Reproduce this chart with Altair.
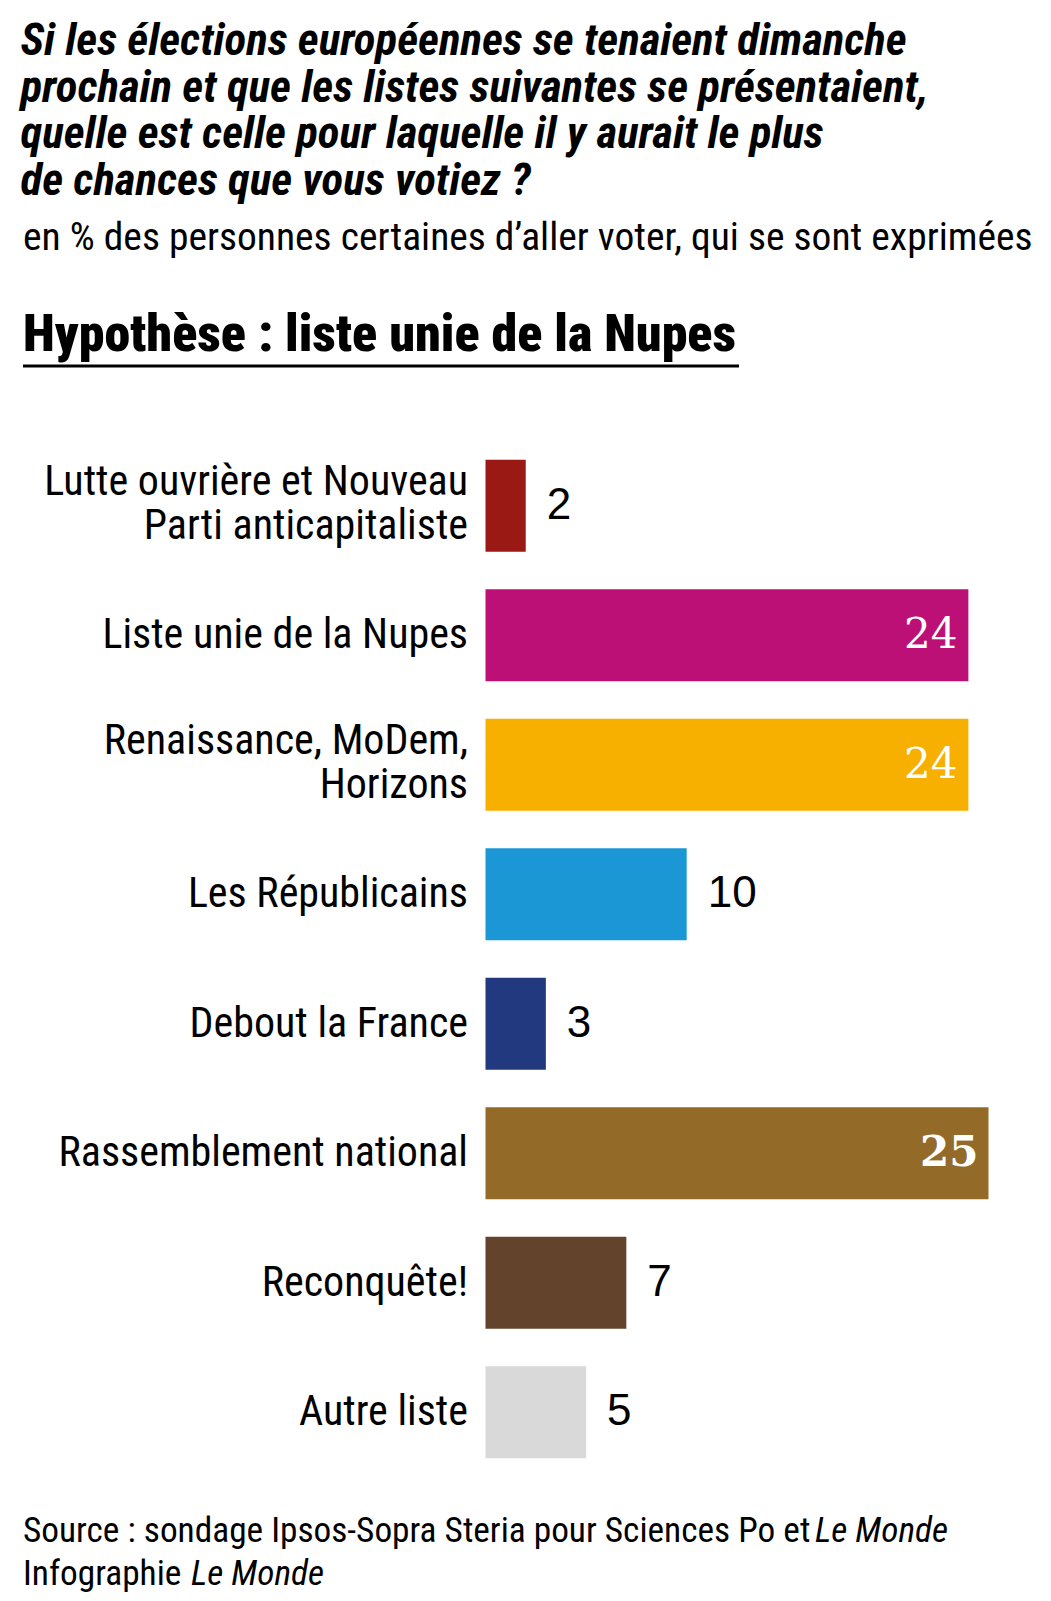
import altair as alt
import pandas as pd

categories = [
    "Lutte ouvrière et Nouveau\nParti anticapitaliste",
    "Liste unie de la Nupes",
    "Renaissance, MoDem,\nHorizons",
    "Les Républicains",
    "Debout la France",
    "Rassemblement national",
    "Reconquête!",
    "Autre liste",
]
values = [2, 24, 24, 10, 3, 25, 7, 5]
palette = ["#9B1914", "#BC1077", "#F7AF00", "#1B97D6", "#22387F", "#946A29", "#63432B", "#D9D9D9"]

title_lines = [
    "Si les élections européennes se tenaient dimanche",
    "prochain et que les listes suivantes se présentaient,",
    "quelle est celle pour laquelle il y aurait le plus",
    "de chances que vous votiez ?",
]
subtitle = "en % des personnes certaines d’aller voter, qui se sont exprimées"
header = "Hypothèse : liste unie de la Nupes"
source_regular = "Source : sondage Ipsos-Sopra Steria pour Sciences Po et"
source_italic = "Le Monde"
credit_regular = "Infographie"
credit_italic = "Le Monde"

SANS = "Roboto Condensed, Roboto, sans-serif"
NUM = "Liberation Sans, Arial, sans-serif"
SERIF = "DejaVu Serif, serif"

df = pd.DataFrame({"category": categories, "value": values})

W, H = 503, 1036

x = alt.X("value:Q", scale=alt.Scale(domain=[0, 25], nice=False), axis=None)
y = alt.Y("category:N", sort=categories,
          scale=alt.Scale(paddingInner=0.29, paddingOuter=0.145), axis=None)

bars = alt.Chart(df).mark_bar().encode(
    x=x, y=y,
    color=alt.Color("category:N", scale=alt.Scale(domain=categories, range=palette), legend=None),
)

LH = 44
label_props = dict(align="right", baseline="middle", font=SANS, fontSize=42, lineBreak="\n",
                   lineHeight=LH, color="#000000")
cat_one = alt.Chart(df).transform_filter("indexof(datum.category, '\\n') < 0").mark_text(
    **label_props).encode(y=y, x=alt.value(-17.5), text="category:N")
cat_two = alt.Chart(df).transform_filter("indexof(datum.category, '\\n') >= 0").mark_text(
    dy=-LH / 2 - 2, **label_props).encode(y=y, x=alt.value(-17.5), text="category:N")

outside = alt.Chart(df).transform_filter("datum.value < 20").mark_text(
    align="left", baseline="middle", dx=21, font=NUM, fontSize=44, color="#000000"
).encode(x=x, y=y, text="value:Q")

inside = alt.Chart(df).transform_joinaggregate(vmax="max(value)").transform_filter(
    "datum.value >= 20 && datum.value < datum.vmax").mark_text(
    align="right", baseline="middle", dx=-11, font=SERIF, fontSize=42, color="#FFFFFF"
).encode(x=x, y=y, text="value:Q")

inside_bold = alt.Chart(df).transform_joinaggregate(vmax="max(value)").transform_filter(
    "datum.value >= 20 && datum.value == datum.vmax").mark_text(
    align="right", baseline="middle", dx=-10, font=SERIF, fontSize=42, fontWeight="bold",
    color="#FFFFFF"
).encode(x=x, y=y, text="value:Q")


def note(text, xv, yv, size, weight="normal", style="normal", lh=None):
    props = dict(align="left", baseline="alphabetic", font=SANS, fontSize=size,
                 fontWeight=weight, fontStyle=style, color="#000000")
    if lh is not None:
        props["lineBreak"] = "\n"
        props["lineHeight"] = lh
    return alt.Chart(pd.DataFrame({"t": [text]})).mark_text(**props).encode(
        x=alt.value(xv), y=alt.value(yv), text="t:N")


title = note("\n".join(title_lines), -465, -386, 45, weight="bold", style="italic", lh=46.5)
sub = note(subtitle, -462.5, -191, 39.5)
head = note(header, -462.5, -90, 52, weight=900)
underline = alt.Chart(pd.DataFrame({"a": [0]})).mark_rule(color="#000000", strokeWidth=3).encode(
    x=alt.value(-462.5), x2=alt.value(253.5), y=alt.value(-75))
src1 = note(source_regular, -462.5, 1101, 35.3)
src1i = note(source_italic, 329.5, 1101, 35.3, style="italic")
src2 = note(credit_regular, -462.5, 1144, 35.3)
src2i = note(credit_italic, -294.5, 1144, 35.3, style="italic")

chart = alt.layer(
    bars, cat_one, cat_two, outside, inside, inside_bold,
    title, sub, head, underline, src1, src1i, src2, src2i,
).properties(
    width=W, height=H,
    autosize=alt.AutoSizeParams(type="none"),
    padding={"left": 477.5, "top": 433, "right": 54.5, "bottom": 120},
).configure(background="#FFFFFF").configure_view(stroke=None)

chart.save("out.html", embed_options={"renderer": "svg", "actions": False})
